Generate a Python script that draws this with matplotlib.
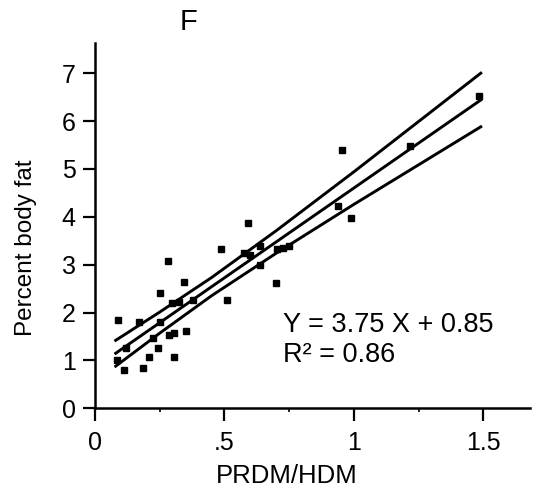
import matplotlib
matplotlib.use("Agg")
from matplotlib import pyplot as plt
from matplotlib.ticker import MultipleLocator

plt.rcParams["font.family"] = ["Liberation Sans", "DejaVu Sans"]

# Data.
ratio = [0.089, 0.171, 0.085, 0.113, 0.120, 0.184, 0.210, 0.242, 0.226, 0.251,
         0.250, 0.283, 0.284, 0.307, 0.307, 0.350, 0.297, 0.323, 0.342, 0.377,
         0.510, 0.486, 0.592, 0.574, 0.597, 0.638, 0.638, 0.703, 0.700, 0.748,
         0.728, 1.485, 1.217, 0.955, 0.937, 0.990]
body_fat = [1.84, 1.81, 1.01, 0.80, 1.25, 0.84, 1.08, 1.25, 1.46, 1.81,
            2.40, 3.08, 1.54, 1.58, 1.07, 1.62, 2.19, 2.23, 2.64, 2.26,
            2.26, 3.32, 3.88, 3.24, 3.20, 3.39, 2.99, 3.32, 2.61, 3.39,
            3.35, 6.53, 5.48, 5.39, 4.23, 3.98]

# Regression line and confidence band.
fit_x = [0.08, 1.49]
fit_y = [1.15, 6.44]
band_x = [0.08, 0.25, 0.45, 0.70, 1.00, 1.49]
band_upper = [1.42, 2.01, 2.73, 3.71, 4.94, 7.00]
band_lower = [0.88, 1.57, 2.35, 3.24, 4.26, 5.88]

x_ticks = [0, 0.5, 1, 1.5]
x_tick_labels = ["0", ".5", "1", "1.5"]
y_ticks = [0, 1, 2, 3, 4, 5, 6, 7]

fig = plt.figure(figsize=(5.44, 4.91), dpi=100)
ax = fig.add_axes([0.1746, 0.1684, 0.7996, 0.744])

ax.plot(band_x, band_upper, c="black", linewidth=2.1)
ax.plot(band_x, band_lower, c="black", linewidth=2.1)
ax.plot(fit_x, fit_y, c="black", linewidth=2.1)
ax.plot(ratio, body_fat, linestyle="none", marker="s", markersize=5,
        color="black")

ax.set_xlim(0, 1.68)
ax.set_ylim(0, 7.63)
ax.spines["top"].set_visible(False)
ax.spines["right"].set_visible(False)
for side in ["left", "bottom"]:
    ax.spines[side].set_linewidth(1.8)

ax.set_xticks(x_ticks)
ax.set_xticklabels(x_tick_labels)
ax.xaxis.set_minor_locator(MultipleLocator(0.25))
ax.set_yticks(y_ticks)
ax.tick_params(axis="both", which="major", labelsize=18, length=9, width=1.6)
ax.tick_params(axis="x", which="major", pad=7)
ax.tick_params(axis="y", which="major", pad=5)
ax.tick_params(axis="x", which="minor", length=3, width=1.2)

ax.set_xlabel("PRDM/HDM", fontsize=18.5)
ax.xaxis.set_label_coords(0.44, -0.152)
ax.set_ylabel("Percent body fat", fontsize=17.5)
ax.yaxis.set_label_coords(-0.133, 0.44)

ax.text(0.727, 1.59, "Y = 3.75 X + 0.85", fontsize=19.5)
ax.text(0.727, 0.97, "R² = 0.86", fontsize=19.5)

fig.text(188 / 544, 1 - 22 / 491, "F", fontsize=21, ha="center", va="center")

fig.savefig("out.png", dpi=100)
